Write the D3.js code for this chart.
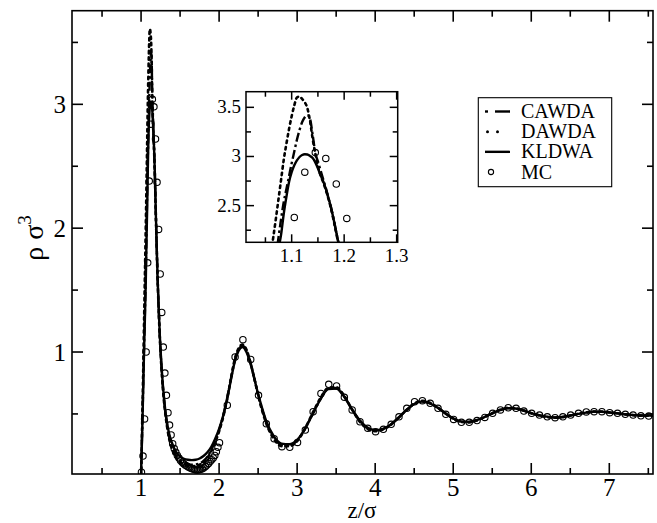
<!DOCTYPE html>
<html><head><meta charset="utf-8">
<script src="https://cdn.jsdelivr.net/npm/d3@7/dist/d3.min.js"></script>
<style>
html,body{margin:0;padding:0;background:#fff;}
svg{display:block;}
</style></head>
<body>
<script>
// ---------------- DATA ----------------
const zTheory = [1.00,1.02,1.04,1.06,1.065,1.07,1.075,1.08,1.085,1.09,1.095,1.10,1.105,1.11,1.115,1.12,1.125,1.13,1.135,1.14,1.145,1.15,1.155,1.16,1.165,1.17,1.175,1.18,1.185,1.19,1.195,1.20,1.21,1.22,1.24,1.26,1.28,1.30,1.33,1.36,1.40,1.45,1.50,1.55,1.60,1.65,1.70,1.75,1.80,1.85,1.90,1.95,2.00,2.05,2.10,2.15,2.20,2.25,2.30,2.35,2.40,2.45,2.50,2.55,2.60,2.70,2.80,2.90,3.00,3.10,3.20,3.30,3.40,3.50,3.60,3.70,3.80,3.90,4.00,4.10,4.20,4.30,4.40,4.50,4.60,4.70,4.80,4.90,5.00,5.10,5.20,5.30,5.40,5.50,5.60,5.70,5.80,5.90,6.00,6.10,6.20,6.30,6.40,6.50,6.60,6.70,6.80,6.90,7.00,7.10,7.20,7.30,7.40,7.50,7.56];
const kldwa = [0.00,0.50,1.05,1.55,1.73,1.90,2.06,2.21,2.42,2.59,2.74,2.84,2.91,2.96,2.995,3.015,3.022,3.02,3.005,2.985,2.94,2.88,2.81,2.75,2.67,2.58,2.48,2.36,2.23,2.10,1.98,1.86,1.64,1.45,1.14,0.91,0.73,0.59,0.44,0.34,0.26,0.19,0.155,0.138,0.13,0.127,0.13,0.14,0.16,0.19,0.235,0.30,0.38,0.48,0.61,0.77,0.92,1.01,1.04,1.00,0.91,0.79,0.66,0.55,0.45,0.32,0.26,0.255,0.29,0.38,0.50,0.62,0.70,0.705,0.64,0.54,0.45,0.39,0.37,0.38,0.415,0.47,0.53,0.58,0.60,0.585,0.55,0.505,0.465,0.44,0.437,0.45,0.475,0.505,0.53,0.545,0.543,0.527,0.507,0.49,0.478,0.472,0.476,0.488,0.50,0.511,0.517,0.517,0.512,0.505,0.498,0.492,0.488,0.487,0.487];
const cawda = [0.00,0.52,1.08,1.62,1.80,1.98,2.18,2.37,2.54,2.67,2.80,2.93,3.05,3.17,3.27,3.35,3.40,3.42,3.38,3.22,3.04,2.95,2.86,2.77,2.68,2.58,2.48,2.36,2.23,2.10,1.98,1.86,1.64,1.45,1.13,0.90,0.72,0.58,0.43,0.32,0.23,0.16,0.125,0.105,0.095,0.09,0.092,0.10,0.12,0.155,0.21,0.28,0.37,0.48,0.62,0.78,0.93,1.02,1.05,1.01,0.92,0.79,0.66,0.54,0.44,0.31,0.25,0.245,0.285,0.38,0.50,0.62,0.705,0.71,0.645,0.54,0.445,0.385,0.365,0.377,0.413,0.47,0.53,0.582,0.603,0.588,0.552,0.505,0.463,0.438,0.434,0.448,0.474,0.505,0.531,0.547,0.545,0.528,0.507,0.489,0.476,0.47,0.475,0.487,0.50,0.512,0.518,0.518,0.513,0.505,0.497,0.491,0.487,0.486,0.486];
const dawda = [0.00,0.60,1.30,2.00,2.18,2.37,2.57,2.77,2.97,3.13,3.28,3.41,3.52,3.60,3.61,3.585,3.55,3.49,3.36,3.18,3.03,2.90,2.81,2.74,2.66,2.57,2.47,2.35,2.22,2.09,1.97,1.85,1.63,1.44,1.12,0.88,0.70,0.56,0.41,0.30,0.21,0.145,0.11,0.09,0.08,0.077,0.08,0.09,0.11,0.145,0.20,0.27,0.36,0.47,0.61,0.78,0.94,1.03,1.06,1.02,0.92,0.79,0.65,0.53,0.43,0.30,0.24,0.24,0.28,0.38,0.51,0.63,0.71,0.715,0.65,0.54,0.44,0.38,0.36,0.374,0.412,0.47,0.532,0.584,0.606,0.59,0.552,0.504,0.461,0.435,0.432,0.447,0.474,0.506,0.533,0.549,0.546,0.528,0.506,0.488,0.475,0.469,0.474,0.487,0.501,0.513,0.519,0.519,0.513,0.505,0.497,0.49,0.486,0.485,0.485];

const zMC = [1.005,1.025,1.045,1.065,1.085,1.105,1.125,1.145,1.165,1.185,1.205,1.225,1.245,1.265,1.285,1.305,1.325,1.345,1.365,1.385,1.405,1.425,1.445,1.465,1.485,1.505,1.525,1.545,1.565,1.585,1.605,1.625,1.645,1.665,1.685,1.705,1.725,1.745,1.765,1.785,1.805,1.825,1.845,1.865,1.885,1.905,1.925,1.945,1.965,1.985,2.005,2.105,2.205,2.305,2.405,2.505,2.605,2.705,2.805,2.905,3.005,3.105,3.205,3.305,3.405,3.505,3.605,3.705,3.805,3.905,4.005,4.105,4.205,4.305,4.405,4.505,4.605,4.705,4.805,4.905,5.005,5.105,5.205,5.305,5.405,5.505,5.605,5.705,5.805,5.905,6.005,6.105,6.205,6.305,6.405,6.505,6.605,6.705,6.805,6.905,7.005,7.105,7.205,7.305,7.405,7.505];
const mc = [0.03,0.16,0.46,1.00,1.72,2.38,2.84,3.04,2.98,2.72,2.37,1.99,1.63,1.32,1.04,0.83,0.65,0.51,0.41,0.33,0.26,0.22,0.19,0.165,0.145,0.125,0.11,0.098,0.088,0.08,0.072,0.065,0.06,0.055,0.051,0.048,0.047,0.049,0.053,0.058,0.066,0.075,0.087,0.10,0.115,0.13,0.145,0.165,0.195,0.23,0.268,0.57,0.96,1.10,0.94,0.65,0.42,0.30,0.236,0.23,0.27,0.37,0.518,0.666,0.739,0.726,0.634,0.532,0.437,0.384,0.357,0.376,0.416,0.477,0.545,0.599,0.607,0.586,0.545,0.497,0.456,0.432,0.432,0.446,0.472,0.505,0.532,0.55,0.545,0.523,0.505,0.491,0.477,0.47,0.477,0.491,0.505,0.516,0.518,0.518,0.51,0.505,0.497,0.491,0.485,0.483];

const xMajorTicks = [1,2,3,4,5,6,7];
const xMinorTicks = [0.5,1.5,2.5,3.5,4.5,5.5,6.5,7.5];
const yMajorTicks = [1,2,3];
const yMinorTicks = [0.5,1.5,2.5,3.5];
const insetXMajor = [1.1,1.2,1.3];
const insetXMinor = [1.05,1.15,1.25];
const insetYMajor = [2.5,3,3.5];
const insetYMinor = [2.25,2.75,3.25];
const seriesNames = ["CAWDA","DAWDA","KLDWA","MC"];

// ---------------- CHART ----------------
const FONT = "'Liberation Serif', 'Times New Roman', Times, 'DejaVu Serif', serif";
const W = 657, H = 523;
const svg = d3.select("body").append("svg").attr("width", W).attr("height", H)
  .attr("font-family", FONT);

const x = d3.scaleLinear().domain([0.115, 7.56]).range([72, 653]);
const y = d3.scaleLinear().domain([0.015, 3.756]).range([474, 10.7]);

const styles = {
  CAWDA: {dash: "9,3,2.5,3", width: 2.4},
  DAWDA: {dash: "2.5,4", width: 2.6},
  KLDWA: {dash: null, width: 2.4}
};
const theory = [
  {name: "CAWDA", vals: cawda},
  {name: "DAWDA", vals: dawda},
  {name: "KLDWA", vals: kldwa}
];

const defs = svg.append("defs");
defs.append("clipPath").attr("id","mainClip")
  .append("rect").attr("x",72).attr("y",10.7).attr("width",581).attr("height",463.3);

function drawSeries(g, xs, ys) {
  const line = d3.line().x((d,i)=>xs(zTheory[i])).y(d=>ys(d)).curve(d3.curveMonotoneX);
  theory.forEach(s => {
    const p = g.append("path").datum(s.vals).attr("d", line)
      .attr("fill","none").attr("stroke","#000")
      .attr("stroke-width", styles[s.name].width)
      .attr("stroke-linecap", s.name === "DAWDA" ? "round" : "butt")
      .attr("stroke-linejoin","round");
    if (styles[s.name].dash) p.attr("stroke-dasharray", styles[s.name].dash);
  });
  g.selectAll("circle.mc").data(mc).enter().append("circle").attr("class","mc")
    .attr("cx",(d,i)=>xs(zMC[i])).attr("cy",d=>ys(d)).attr("r",3.2)
    .attr("fill","none").attr("stroke","#000").attr("stroke-width",1.1);
}

const main = svg.append("g").attr("clip-path","url(#mainClip)");
drawSeries(main, x, y);

function ticksFrame(g, xs, ys, xMaj, xMin, yMaj, yMin, majL, minL, sw) {
  const [x0,x1] = xs.range(); const [y0,y1] = ys.range();
  g.append("rect").attr("x",x0).attr("y",y1).attr("width",x1-x0).attr("height",y0-y1)
    .attr("fill","none").attr("stroke","#000").attr("stroke-width",sw);
  const addX = (vals,L) => vals.forEach(v => {
    g.append("line").attr("x1",xs(v)).attr("x2",xs(v)).attr("y1",y0).attr("y2",y0-L).attr("stroke","#000").attr("stroke-width",sw);
    g.append("line").attr("x1",xs(v)).attr("x2",xs(v)).attr("y1",y1).attr("y2",y1+L).attr("stroke","#000").attr("stroke-width",sw);
  });
  const addY = (vals,L) => vals.forEach(v => {
    g.append("line").attr("y1",ys(v)).attr("y2",ys(v)).attr("x1",x0).attr("x2",x0+L).attr("stroke","#000").attr("stroke-width",sw);
    g.append("line").attr("y1",ys(v)).attr("y2",ys(v)).attr("x1",x1).attr("x2",x1-L).attr("stroke","#000").attr("stroke-width",sw);
  });
  addX(xMaj,majL); addX(xMin,minL); addY(yMaj,majL); addY(yMin,minL);
}
const axG = svg.append("g");
ticksFrame(axG, x, y, xMajorTicks, xMinorTicks, yMajorTicks, yMinorTicks, 11, 6, 1.6);

axG.selectAll("text.xt").data(xMajorTicks).enter().append("text")
  .attr("x",d=>x(d)).attr("y",496).attr("text-anchor","middle").attr("font-size",25).text(d=>d);
axG.selectAll("text.yt").data(yMajorTicks).enter().append("text")
  .attr("x",66).attr("y",d=>y(d)+9).attr("text-anchor","end").attr("font-size",25).text(d=>d);

svg.append("text").attr("x",362).attr("y",518).attr("text-anchor","middle").attr("font-size",23)
  .text("z/σ");
const yt = svg.append("text").attr("transform","translate(43,238) rotate(-90)")
  .attr("text-anchor","middle").attr("font-size",28);
yt.append("tspan").text("ρ σ");
yt.append("tspan").attr("dy",-12).attr("font-size",19).text("3");

// ---------------- INSET ----------------
const xi = d3.scaleLinear().domain([1.013, 1.302]).range([246, 397.7]);
const yi = d3.scaleLinear().domain([2.127, 3.659]).range([242.3, 91.7]);
svg.append("rect").attr("x",246).attr("y",91.7).attr("width",151.7).attr("height",150.6).attr("fill","#fff");
defs.append("clipPath").attr("id","insetClip")
  .append("rect").attr("x",246).attr("y",91.7).attr("width",151.7).attr("height",150.6);
const inset = svg.append("g").attr("clip-path","url(#insetClip)");
drawSeries(inset, xi, yi);
const inAx = svg.append("g");
ticksFrame(inAx, xi, yi, insetXMajor, insetXMinor, insetYMajor, insetYMinor, 8, 5, 1.5);
inAx.selectAll("text.ixt").data(insetXMajor).enter().append("text")
  .attr("x",d=>xi(d)).attr("y",262).attr("text-anchor","middle").attr("font-size",19).text(d=>d);
inAx.selectAll("text.iyt").data(insetYMajor).enter().append("text")
  .attr("x",241).attr("y",d=>yi(d)+6).attr("text-anchor","end").attr("font-size",19).text(d=>d);

// ---------------- LEGEND ----------------
const lg = svg.append("g");
lg.append("rect").attr("x",478.3).attr("y",97.7).attr("width",133.4).attr("height",89)
  .attr("fill","#fff").attr("stroke","#000").attr("stroke-width",1.1);
const legY = d3.scalePoint().domain(seriesNames).range([111.5, 172]);
seriesNames.forEach(n => {
  const cy = legY(n);
  if (n === "MC") {
    lg.append("circle").attr("cx",491).attr("cy",cy).attr("r",2.6).attr("fill","none").attr("stroke","#000").attr("stroke-width",1.1);
  } else if (n === "CAWDA") {
    lg.append("line").attr("x1",485).attr("x2",488).attr("y1",cy).attr("y2",cy).attr("stroke","#000").attr("stroke-width",2.4);
    lg.append("line").attr("x1",495).attr("x2",510).attr("y1",cy).attr("y2",cy).attr("stroke","#000").attr("stroke-width",2.4);
  } else if (n === "DAWDA") {
    lg.append("circle").attr("cx",487.5).attr("cy",cy).attr("r",1.5).attr("fill","#000");
    lg.append("circle").attr("cx",497.5).attr("cy",cy).attr("r",1.5).attr("fill","#000");
  } else {
    lg.append("line").attr("x1",485).attr("x2",510).attr("y1",cy).attr("y2",cy).attr("stroke","#000").attr("stroke-width",2.4);
  }
  lg.append("text").attr("x",521).attr("y",cy+6.5).attr("font-size",20).text(n);
});
</script>
</body></html>
